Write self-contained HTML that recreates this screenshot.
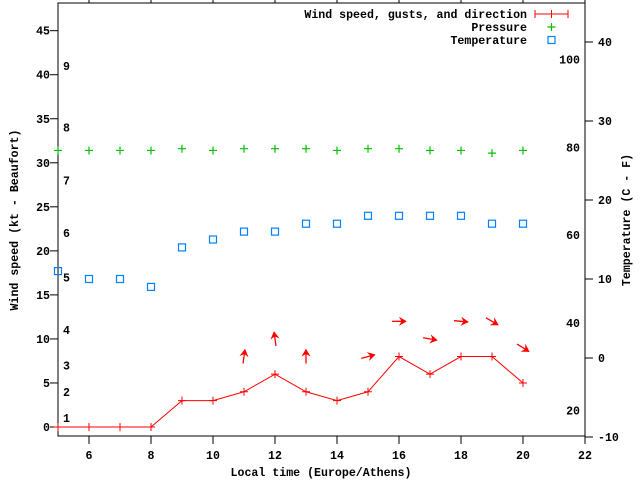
<!DOCTYPE html>
<html><head><meta charset="utf-8"><style>
html,body{margin:0;padding:0;background:#fff;}
svg{display:block;font-family:"Liberation Mono",monospace;font-weight:bold;font-size:11.6px;}
</style></head><body>
<svg id="chart" width="640" height="480" viewBox="0 0 640 480" xmlns="http://www.w3.org/2000/svg">
<g id="axes"></g>
<g id="marks"></g>
<g id="legend">
  <text x="527" y="18" text-anchor="end">Wind speed, gusts, and direction</text>
  <line x1="535" y1="14" x2="568" y2="14" stroke="#f00" stroke-width="1"/>
  <line x1="535" y1="10" x2="535" y2="18" stroke="#f00"/>
  <line x1="568" y1="10" x2="568" y2="18" stroke="#f00"/>
  <line x1="551.5" y1="10" x2="551.5" y2="18" stroke="#f00"/>
  <text x="527" y="31" text-anchor="end">Pressure</text>
  <path d="M547.5 27h8M551.5 23v8" stroke="#00c000" stroke-width="1.2"/>
  <text x="527" y="44" text-anchor="end">Temperature</text>
  <rect x="548" y="36.5" width="7" height="7" fill="none" stroke="#0080ff" stroke-width="1.2"/>
</g>
<text x="321" y="476" text-anchor="middle">Local time (Europe/Athens)</text>
<text transform="translate(18,220) rotate(-90)" text-anchor="middle">Wind speed (kt - Beaufort)</text>
<text transform="translate(630,220) rotate(-90)" text-anchor="middle">Temperature (C - F)</text>
</svg>
<script>
const hours = [5,6,7,8,9,10,11,12,13,14,15,16,17,18,19,20];
const windKt = [0,0,0,0,3,3,4,6,4,3,4,8,6,8,8,5];
const pressure = [31.4,31.4,31.4,31.4,31.6,31.4,31.6,31.6,31.6,31.4,31.6,31.6,31.4,31.4,31.1,31.4];
const tempC = [11,10,10,9,14,15,16,16,17,17,18,18,18,18,17,17];
const arrowHours = [11,12,13,15,16,17,18,19,20];
const gustKt = [8,10,8,8,12,10,12,12,9];
const dirDeg = [8,-8,0,75,90,100,95,120,122];
const xTicks = [6,8,10,12,14,16,18,20,22];
const yTicks = [0,5,10,15,20,25,30,35,40,45];
const y2Ticks = [-10,0,10,20,30,40];
const fTicks = [20,40,60,80,100];
const beaufortKt = [1,4,7,11,17,22,28,34,41];
const beaufortLabels = ['1','2','3','4','5','6','7','8','9'];

const L=58,R=585,T=3,B=436;
const xs = h => L + (h-5)*31;
const ys = v => 427 - v*8.807;
const y2 = c => 437 - (c+10)*7.9;
const NS='http://www.w3.org/2000/svg';
const axes=document.getElementById('axes'), marks=document.getElementById('marks');
function mk(parent,tag,attrs){const e=document.createElementNS(NS,tag);for(const k in attrs)e.setAttribute(k,attrs[k]);parent.appendChild(e);return e;}

let e;
e=mk(axes,'rect',{x:L,y:T,width:R-L,height:B-T,fill:'none',stroke:'#000','stroke-width':1});



xTicks.forEach(t=>{
  const x=xs(t);
  e=mk(axes,'line',{x1:x,y1:B,x2:x,y2:B+8,stroke:'#000'});
  
  
  e=mk(axes,'line',{x1:x,y1:T,x2:x,y2:T-8,stroke:'#000'});
  
  
  e=mk(axes,'text',{x:x,y:459,'text-anchor':'middle'});e.textContent=t;
  
  
});
yTicks.forEach(t=>{
  const y=ys(t);
  e=mk(axes,'line',{x1:L-8,y1:y,x2:L,y2:y,stroke:'#000'});
  
  
  e=mk(axes,'text',{x:50,y:y+4,'text-anchor':'end'});e.textContent=t;
  
  
});
y2Ticks.forEach(t=>{
  const y=y2(t);
  e=mk(axes,'line',{x1:R,y1:y,x2:R+8,y2:y,stroke:'#000'});
  
  
  e=mk(axes,'text',{x:598,y:y+4,'text-anchor':'start'});e.textContent=t;
  
  
});
fTicks.forEach(f=>{
  const y=y2((f-32)*5/9);
  e=mk(axes,'text',{x:580,y:y+4,'text-anchor':'end'});e.textContent=f;
  
  
});
beaufortKt.forEach((k,i)=>{
  e=mk(axes,'text',{x:63,y:ys(k)+4,'text-anchor':'start'});e.textContent=beaufortLabels[i];
  
  
});

// pressure
hours.forEach((h,i)=>{
  const x=xs(h),y=ys(pressure[i]);
  e=mk(marks,'path',{d:`M${x-4} ${y}h8M${x} ${y-4}v8`,stroke:'#00c000','stroke-width':1.2});
  
  
});
// temperature
hours.forEach((h,i)=>{
  const x=xs(h),y=y2(tempC[i]);
  e=mk(marks,'rect',{x:x-3.5,y:y-3.5,width:7,height:7,fill:'none',stroke:'#0080ff','stroke-width':1.2});
  
  
});
// wind line
e=mk(marks,'polyline',{points:hours.map((h,i)=>xs(h)+','+ys(windKt[i])).join(' '),fill:'none',stroke:'#f00','stroke-width':1});


hours.forEach((h,i)=>{
  const x=xs(h),y=ys(windKt[i]);
  e=mk(marks,'path',{d:`M${x-4} ${y}h8M${x} ${y-4}v8`,stroke:'#f00','stroke-width':1});
  
  
});
// direction arrows
arrowHours.forEach((h,i)=>{
  const cx=xs(h),cy=ys(gustKt[i]);
  const a=dirDeg[i]*Math.PI/180,len=14;
  const dx=Math.sin(a),dy=-Math.cos(a);
  const x1=cx-dx*len/2,y1=cy-dy*len/2,x2=cx+dx*len/2,y2p=cy+dy*len/2;
  const px=-dy,py=dx,hl=6,hw=3.5;
  const bx=x2-dx*hl,by=y2p-dy*hl;
  e=mk(marks,'line',{x1:x1,y1:y1,x2:x2,y2:y2p,stroke:'#f00','stroke-width':1.3});
  
  
  e=mk(marks,'polygon',{points:`${x2},${y2p} ${bx+px*hw},${by+py*hw} ${bx+dx*2},${by+dy*2} ${bx-px*hw},${by-py*hw}`,fill:'#f00',stroke:'#f00','stroke-width':0.8});
  
  
});
</script>
</body></html>
